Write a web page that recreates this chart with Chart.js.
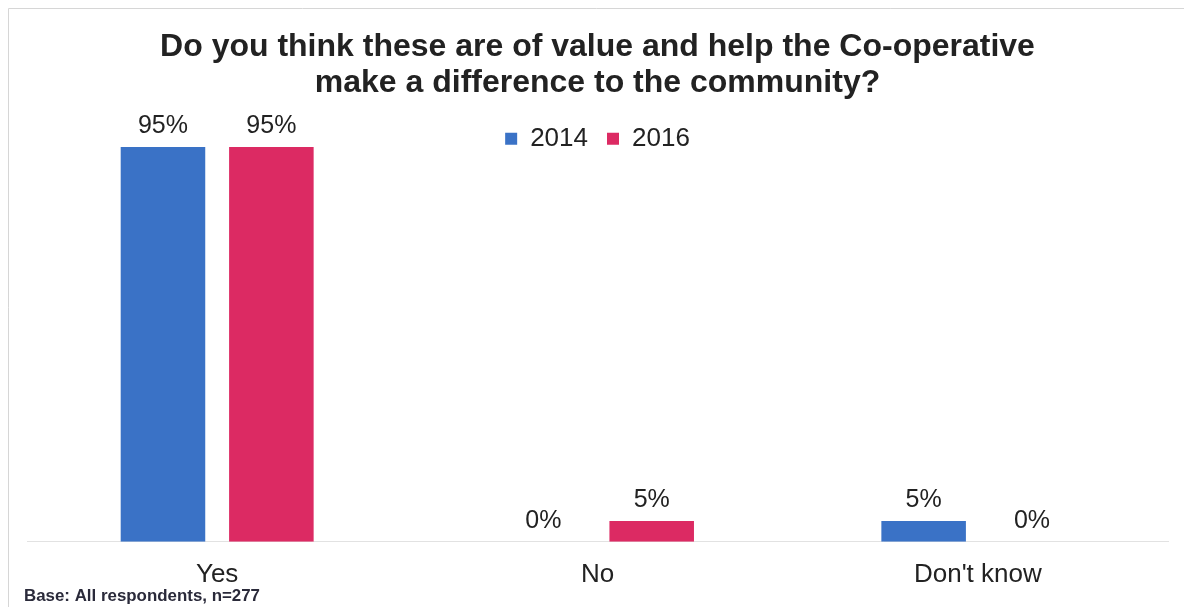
<!DOCTYPE html>
<html>
<head>
<meta charset="utf-8">
<script src="https://cdn.jsdelivr.net/npm/chart.js@4"></script>
<style>
  html, body { margin: 0; padding: 0; background: #fff; }
  #wrap { width: 1184px; height: 607px; }
</style>
</head>
<body>
<div id="wrap"><canvas id="myChart" width="1184" height="607"></canvas></div>
<script>
var categories = ["Yes", "No", "Don't know"];
var years = ["2014", "2016"];
var values2014 = [95, 0, 5];
var values2016 = [95, 5, 0];
var barColors = ["#3A72C6", "#DC2A63"];
var footnote = "Base: All respondents, n=277";

// legend sits inside the plot: it takes no layout height, but keeps its box for drawing
var legendInPlot = {
    id: "legendInPlot",
    afterInit: function (chart) {
        var lg = chart.legend;
        var fit = lg.fit;
        lg.fit = function () {
            fit.call(this);
            this._realHeight = this.height;
            this.height = 0;
        };
    },
    afterLayout: function (chart) {
        var lg = chart.legend;
        lg.height = lg._realHeight;
        lg.bottom = lg.top + lg.height;
    }
};

// percentage labels above each bar, plus frame and footnote
var labelPlugin = {
    id: "labels",
    afterDatasetsDraw: function (chart) {
        var ctx = chart.ctx;
        ctx.save();
        ctx.font = "25px 'Liberation Sans', Arial, sans-serif";
        ctx.fillStyle = "#222";
        ctx.textAlign = "center";
        ctx.textBaseline = "middle";
        chart.data.datasets.forEach(function (ds, i) {
            var meta = chart.getDatasetMeta(i);
            meta.data.forEach(function (bar, j) {
                ctx.fillText(ds.data[j] + "%", bar.x, bar.y - 21);
            });
        });
        ctx.restore();
    },
    afterDraw: function (chart) {
        var ctx = chart.ctx;
        ctx.save();
        ctx.strokeStyle = "#d6d6d6";
        ctx.lineWidth = 1;
        ctx.beginPath();
        ctx.moveTo(8.5, 607);
        ctx.lineTo(8.5, 8.5);
        ctx.lineTo(1184, 8.5);
        ctx.stroke();
        ctx.font = "bold 17px 'Liberation Sans', Arial, sans-serif";
        ctx.fillStyle = "#2a2a3a";
        ctx.textAlign = "left";
        ctx.textBaseline = "middle";
        var w = ctx.measureText(footnote).width;
        ctx.translate(24, 596);
        ctx.scale(236 / w, 1);
        ctx.fillText(footnote, 0, 0);
        ctx.restore();
    }
};

new Chart("myChart", {
    type: "bar",
    data: {
        labels: categories,
        datasets: [{
            label: years[0],
            data: values2014,
            backgroundColor: barColors[0]
        }, {
            label: years[1],
            data: values2016,
            backgroundColor: barColors[1]
        }]
    },
    options: {
        responsive: false,
        animation: false,
        layout: { padding: { left: 27, right: 16, top: 20, bottom: 0 } },
        datasets: { bar: { categoryPercentage: 0.57, barPercentage: 0.78 } },
        scales: {
            x: {
                grid: { display: false, drawTicks: false },
                border: { display: true, color: "#e2e2e2", dash: [3, 3] },
                ticks: {
                    padding: 17,
                    color: "#222",
                    font: { size: 26, family: "'Liberation Sans', Arial, sans-serif" }
                }
            },
            y: {
                display: false,
                min: 0,
                max: 104.7
            }
        },
        plugins: {
            title: {
                display: true,
                text: ["Do you think these are of value and help the Co-operative", "make a difference to the community?"],
                color: "#222",
                font: { size: 32, weight: "bold", family: "'Liberation Sans', Arial, sans-serif", lineHeight: 1.12 },
                padding: { top: 9, bottom: 6 }
            },
            legend: {
                position: "top",
                align: "center",
                labels: {
                    boxWidth: 12,
                    boxHeight: 12,
                    color: "#222",
                    padding: 19,
                    font: { size: 26, family: "'Liberation Sans', Arial, sans-serif" }
                }
            },
            tooltip: { enabled: false }
        }
    },
    plugins: [legendInPlot, labelPlugin]
});
</script>
</body>
</html>
